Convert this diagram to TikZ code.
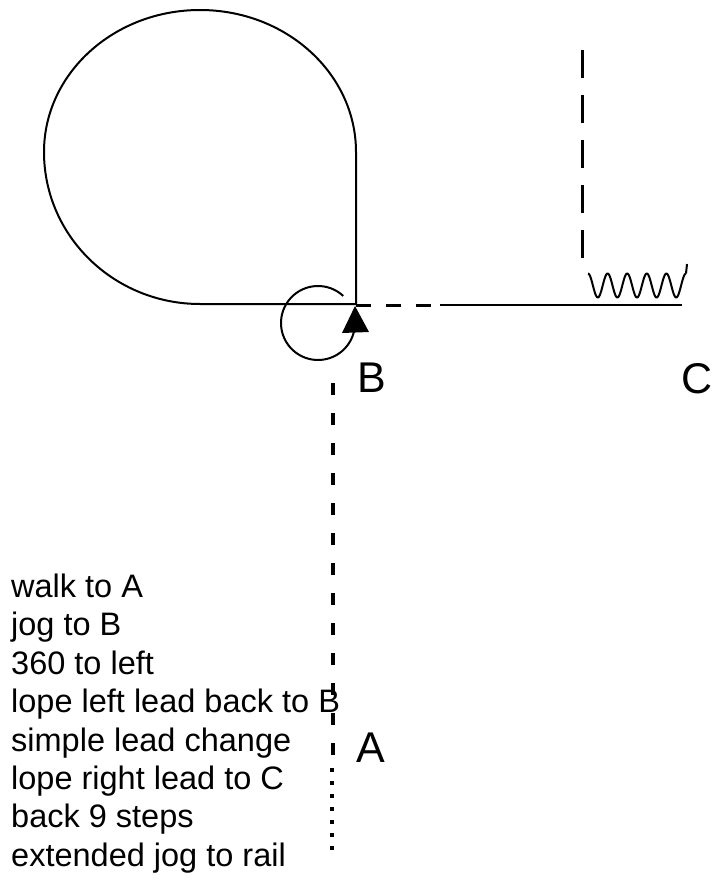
\documentclass[tikz,border=0pt]{standalone}
\usepackage{fontspec}
\setmainfont{Liberation Sans}
\begin{document}
\begin{tikzpicture}[x=1pt,y=-1pt, line join=round,
  lst/.style={anchor=base west, inner sep=0pt, font=\fontsize{32.5}{38}\selectfont},
  lbl/.style={inner sep=0pt, font=\fontsize{43}{46}\selectfont},
  thinline/.style={line width=2pt},
  railline/.style={line width=2.6pt},
  dashline/.style={line width=3.2pt, dash pattern=on 12pt off 18pt},
  longdash/.style={line width=3pt, dash pattern=on 28pt off 17pt},
  shortdash/.style={line width=3pt, dash pattern=on 15pt off 15pt},
  dotline/.style={line width=4pt, dash pattern=on 4pt off 9pt}]
\useasboundingbox (0,0) rectangle (715,881);
% teardrop
\draw[thinline] (200,304) arc[start angle=90, end angle=180, x radius=156, y radius=152]
  arc[start angle=180, end angle=360, x radius=156, y radius=142] -- (356,304) -- cycle;
% 360 circle with arrow
\draw[thinline] (318,323) ++(-47:37) arc[start angle=-47, end angle=-346, radius=37];
\fill (355,306) -- (342,333) -- (369,332) -- cycle;
% line B to C
\draw[shortdash] (356,305) -- (431,305);
\draw[railline] (440,305) -- (682,305);
% back steps
\draw[longdash] (582,50) -- (582,260);
\draw[thinline] plot[domain=0:1, samples=150, smooth] ({588+98*\x}, {285.5-12*cos(360*5*\x)});
\draw[thinline] (686,273.5) -- (687,264);
% A to B
\draw[dashline] (333,383) -- (333,755);
\draw[dotline] (332,768) -- (332,852);
% labels
\node[lbl] (B) at (372,378) {B};
\node[lbl] (C) at (697,379) {C};
\node[lbl] (A) at (371,748) {A};
% list
\node[lst] (l1) at (11,597.5) {walk to A};
\node[lst] (l2) at (11,635.9) {jog to B};
\node[lst] (l3) at (11,674.3) {360 to left};
\node[lst] (l4) at (11,712.7) {lope left lead back to B};
\node[lst] (l5) at (11,751.1) {simple lead change};
\node[lst] (l6) at (11,789.5) {lope right lead to C};
\node[lst] (l7) at (11,827.9) {back 9 steps};
\node[lst] (l8) at (11,866.3) {extended jog to rail};
\end{tikzpicture}
\end{document}
